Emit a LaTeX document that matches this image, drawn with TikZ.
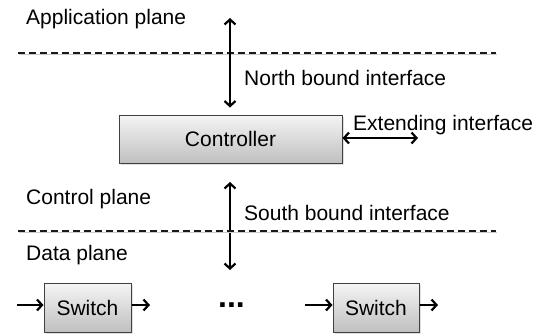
\documentclass[tikz,border=0pt]{standalone}
\usepackage{fontspec}
\setmainfont{Liberation Sans}
\usetikzlibrary{arrows.meta,shadows}

\tikzset{
	lbl/.style={anchor=west, inner sep=0pt, font=\fontsize{21}{25}\selectfont},
	planebox/.style={draw=black!75, line width=1pt, top color=black!4, bottom color=black!25,
		drop shadow={shadow xshift=1.5pt, shadow yshift=-1.5pt, opacity=0.25},
		font=\fontsize{21}{25}\selectfont, inner sep=0pt},
	dashline/.style={line width=2.2pt, dash pattern=on 7pt off 4pt, black!90,
		preaction={draw=black!20, transform canvas={xshift=0.8pt, yshift=-1.6pt}}},
	arr/.style={line width=2.2pt, -{Straight Barb[length=5pt,width=11pt]}},
	dblarr/.style={line width=2.2pt, {Straight Barb[length=5pt,width=11pt]}-{Straight Barb[length=5pt,width=11pt]}}
}

\begin{document}
\begin{tikzpicture}[x=1pt, y=-1pt]
			%%%%% START %%%%%
			\useasboundingbox (0, 0) rectangle (540, 335);
			
			\node[lbl] (app) at (26, 19) {Application plane};
			\draw[dashline] (18, 53) -- (496, 53);
			
			\node[planebox, minimum width=223pt, minimum height=48pt] (ctrl) at (230.5, 139) {Controller};
			
			\coordinate (ntop) at (230, 18);
			\draw[dblarr] (ntop) -- ([yshift=7pt]ctrl.north -| ntop);
			\node[lbl] (north) at (244, 78) {North bound interface};
			
			\coordinate (eend) at (418, 138);
			\draw[dblarr] (ctrl.east |- eend) -- (eend);
			\node[lbl] (ext) at (353, 125) {Extending interface};
			
			\node[lbl] (cplane) at (26, 199) {Control plane};
			\coordinate (stop) at (230, 182);
			\coordinate (sbot) at (230, 270);
			\draw[dblarr] (stop) -- (sbot);
			\node[lbl] (south) at (244, 213) {South bound interface};
			
			\draw[dashline] (18, 231) -- (496, 231);
			\node[lbl] (dplane) at (26, 255) {Data plane};
			
			\node[planebox, minimum width=87pt, minimum height=49pt] (swa) at (87.5, 307.5) {Switch};
			\node[planebox, minimum width=86pt, minimum height=49pt] (swb) at (376, 307.5) {Switch};
			\node[anchor=base, inner sep=0pt, font=\fontsize{32}{32}\selectfont\bfseries] (dots) at (231.5, 307) {...};
			
			\coordinate (ain) at (17, 305);
			\coordinate (aout) at (150, 305);
			\coordinate (bin) at (305, 305);
			\coordinate (bout) at (438, 305);
			\draw[arr] (ain) -- (swa.west |- ain);
			\draw[arr] (swa.east |- aout) -- (aout);
			\draw[arr] (bin) -- (swb.west |- bin);
			\draw[arr] (swb.east |- bout) -- (bout);
			
			%%%%% END %%%%%
		\end{tikzpicture}
\end{document}
